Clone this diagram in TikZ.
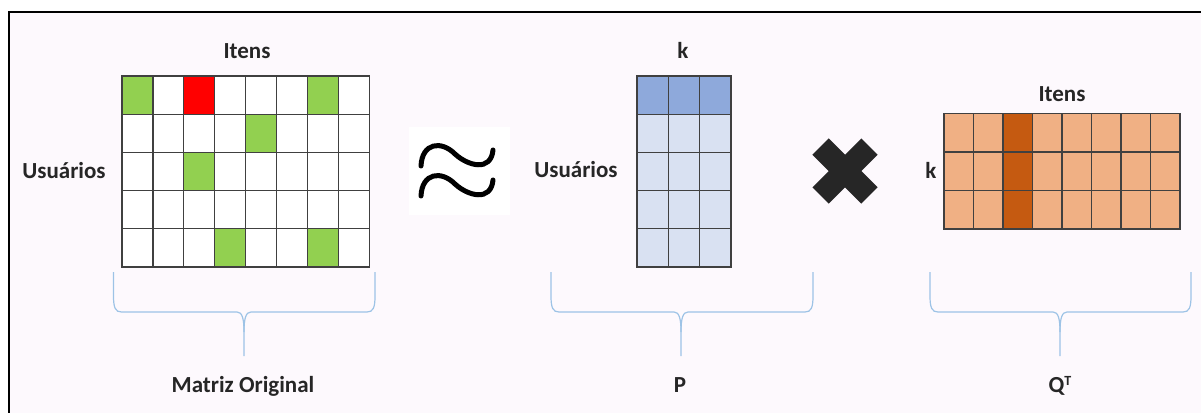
\documentclass[tikz,border=0pt]{standalone}
\usepackage{fontspec}
\setmainfont{Carlito}
\usepackage{tikz}
\usetikzlibrary{positioning}
\definecolor{fundo}{RGB}{253,249,253}
\definecolor{texto}{RGB}{38,38,38}
\definecolor{verde}{HTML}{92D050}
\definecolor{vermelho}{HTML}{FF0000}
\definecolor{azul}{HTML}{8EA9DB}
\definecolor{azulclaro}{HTML}{D9E1F2}
\definecolor{laranja}{HTML}{F0B084}
\definecolor{laranjaesc}{HTML}{C55A11}
\definecolor{azulchave}{HTML}{9DC3E6}
% chave: x esquerdo, x direito, x da ponta
\newcommand{\chave}[3]{%
  \draw[chaveline] (#1,272) -- (#1,296) .. controls (#1,308) and (#1+2,312) .. (#1+8,312) -- (#3-7,312) .. controls (#3-2,312) and (#3,318) .. (#3,332) -- (#3,356);
  \draw[chaveline] (#2,272) -- (#2,296) .. controls (#2,308) and (#2-2,312) .. (#2-8,312) -- (#3+7,312) .. controls (#3+2,312) and (#3,318) .. (#3,332);
}

\begin{document}
\begin{tikzpicture}[x=1pt,y=-1pt,
  rot/.style={font=\fontsize{23}{27}\selectfont\bfseries,text=texto,inner sep=0pt,anchor=base},
  grade/.style={draw=black!75,line width=1.3pt},
  chaveline/.style={draw=azulchave,line width=1.2pt},
  onda/.style={draw=black,line width=5pt,line cap=round}]
  \useasboundingbox (0,0) rectangle (1201,412);
  \clip (0,0) rectangle (1201,412);
  \fill[white] (0,0) rectangle (1201,412);
  \draw[fill=fundo,line width=2pt] (8.7,11.8) rectangle (1240,440);

  % matriz original
  \foreach \c in {0,...,7} \foreach \r in {0,...,4}
    \draw[grade,fill=white] (122+\c*30.9,76+\r*38.2) rectangle ++(30.9,38.2);
  \foreach \c/\r/\cor in {0/0/verde,2/0/vermelho,6/0/verde,4/1/verde,2/2/verde,3/4/verde,6/4/verde}
    \draw[grade,fill=\cor] (122+\c*30.9,76+\r*38.2) rectangle ++(30.9,38.2);
  \node[rot] (itens1) at (247,58.5) {Itens};
  \node[rot] (usu1) at (64,178) {Usuários};

  % aproximadamente
  \fill[white] (409,127) rectangle (510,215);
  \foreach \dy in {0,30}
    \draw[onda] (421,166+\dy) .. controls (422,143+\dy) and (441,140+\dy) .. (455,154+\dy) .. controls (468,166+\dy) and (491,172+\dy) .. (493,150+\dy);

  % P
  \foreach \c in {0,1,2} \foreach \r in {0,...,4}
    \draw[grade,fill=azulclaro] (637+\c*31.3,76+\r*38.2) rectangle ++(31.3,38.2);
  \foreach \c in {0,1,2}
    \draw[grade,fill=azul] (637+\c*31.3,76) rectangle ++(31.3,38.2);
  \node[rot] (k1) at (683,59) {k};
  \node[rot] (usu2) at (576,177.5) {Usuários};

  % vezes
  \fill[texto,shift={(845,171)},rotate=45] (-34.5,-11.5) rectangle (34.5,11.5);
  \fill[texto,shift={(845,171)},rotate=-45] (-34.5,-11.5) rectangle (34.5,11.5);

  % Q transposta
  \foreach \c in {0,...,7} \foreach \r in {0,1,2}
    \draw[grade,fill=laranja] (944+\c*29.5,113.3+\r*38.6) rectangle ++(29.5,38.6);
  \foreach \r in {0,1,2}
    \draw[grade,fill=laranjaesc] (944+2*29.5,113.3+\r*38.6) rectangle ++(29.5,38.6);
  \node[rot] (itens2) at (1062,101.5) {Itens};
  \node[rot] (k2) at (931,178) {k};

  % chaves
  \chave{113.5}{375}{244}
  \chave{551}{813}{681}
  \chave{930}{1191}{1060}
  \node[rot] (orig) at (243,392) {Matriz Original};
  \node[rot] (p) at (680,392) {P};
  \node[rot] (qt) at (1060,392) {Q\raisebox{6.3pt}{\fontsize{14}{14}\selectfont T}};
\end{tikzpicture}
\end{document}
